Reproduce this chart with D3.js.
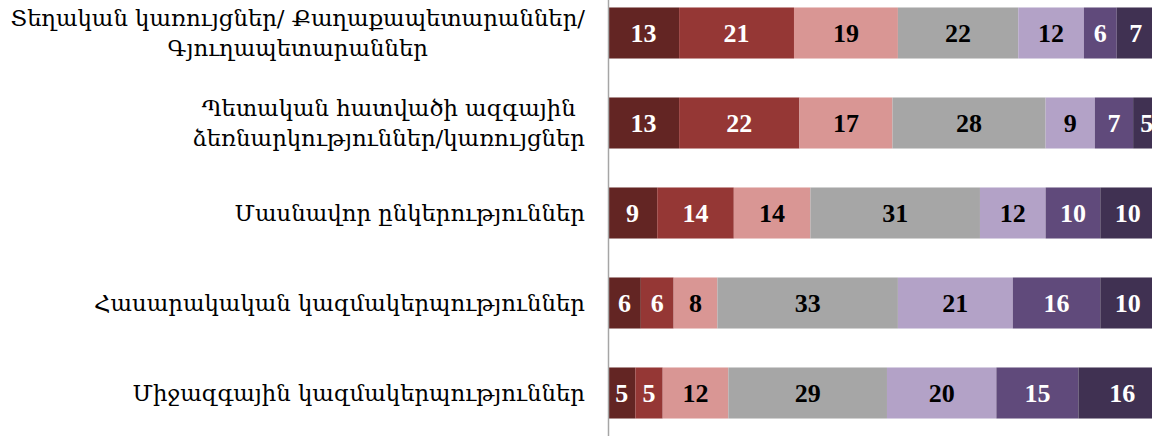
<!DOCTYPE html>
<html><head><meta charset="utf-8">
<script src="https://cdn.jsdelivr.net/npm/d3@7"></script>
<style>html,body{margin:0;padding:0;background:#fff;overflow:hidden}</style>
</head><body>
<svg id="chart" width="1152" height="436"></svg>
<script>
const categories = [
  ["Տեղական կառույցներ/ Քաղաքապետարաններ/", "Գյուղապետարաններ"],
  ["Պետական հատվածի ազգային", "ձեռնարկություններ/կառույցներ"],
  ["Մասնավոր ընկերություններ"],
  ["Հասարակական կազմակերպություններ"],
  ["Միջազգային կազմակերպություններ"]
];
const seriesA = [13, 13, 9, 6, 5];
const seriesB = [21, 22, 14, 6, 5];
const seriesC = [19, 17, 14, 8, 12];
const seriesD = [22, 28, 31, 33, 29];
const seriesE = [12, 9, 12, 21, 20];
const seriesF = [6, 7, 10, 16, 15];
const seriesG = [7, 5, 10, 10, 16];
const seriesKeys = ["A","B","C","D","E","F","G"];
const seriesValues = [seriesA, seriesB, seriesC, seriesD, seriesE, seriesF, seriesG];
const colors = ["#632523", "#953735", "#d99694", "#a6a6a6", "#b3a2c7", "#604a7b", "#403152"];
const labelColors = ["#fff", "#fff", "#000", "#000", "#000", "#fff", "#fff"];

const table = categories.map((c, i) => {
  const row = {idx: i};
  seriesKeys.forEach((k, j) => row[k] = seriesValues[j][i]);
  return row;
});

const svg = d3.select("#chart");
const x = d3.scaleLinear().domain([0, 100]).range([608, 1155]);
const y = d3.scaleBand().domain(d3.range(categories.length)).range([-12, 438]).paddingInner(0.433).paddingOuter(0.2165);

const stack = d3.stack().keys(seriesKeys)(table);

const g = svg.append("g");
stack.forEach((layer, j) => {
  const lg = g.append("g");
  lg.selectAll("rect").data(layer).join("rect")
    .attr("x", d => x(d[0]))
    .attr("y", d => y(d.data.idx))
    .attr("width", d => x(d[1]) - x(d[0]))
    .attr("height", y.bandwidth())
    .attr("fill", colors[j]);
  lg.selectAll("text").data(layer).join("text")
    .attr("x", d => (x(d[0]) + x(d[1])) / 2)
    .attr("y", d => y(d.data.idx) + y.bandwidth() / 2)
    .attr("dy", "0.35em")
    .attr("text-anchor", "middle")
    .attr("font-family", "'Liberation Serif', 'Times New Roman', serif")
    .attr("font-weight", "bold")
    .attr("font-size", 26)
    .attr("fill", labelColors[j])
    .text(d => d[1] - d[0]);
});

// axis line
const axis = d3.axisLeft(y).tickSize(0).tickFormat("");
const ag = svg.append("g").attr("transform", `translate(${x(0)},0)`).call(axis);
ag.select(".domain").attr("stroke", "#a6a6a6").attr("stroke-width", 1.5);

// category labels
const labelFont = "'DejaVu Serif', serif";
const rightEdge = 585;
const lg = svg.append("g").attr("font-family", labelFont).attr("fill", "#000");
const probe = lg.append("text").attr("font-size", 20).text(categories[0][0]);
const w20 = probe.node().getComputedTextLength();
probe.remove();
const fs = Math.min(24, 20 * 575 / w20);
const lineH = 30;
categories.forEach((lines, i) => {
  const cy = y(i) + y.bandwidth() / 2;
  const grp = lg.append("g");
  const texts = lines.map((ln, k) => grp.append("text")
    .attr("font-size", fs)
    .attr("y", cy + (k - (lines.length - 1) / 2) * lineH)
    .attr("dy", "0.35em")
    .attr("text-anchor", "middle")
    .text(ln));
  const maxW = d3.max(texts, t => t.node().getComputedTextLength());
  texts.forEach(t => t.attr("x", rightEdge - maxW / 2));
});
</script>
</body></html>
